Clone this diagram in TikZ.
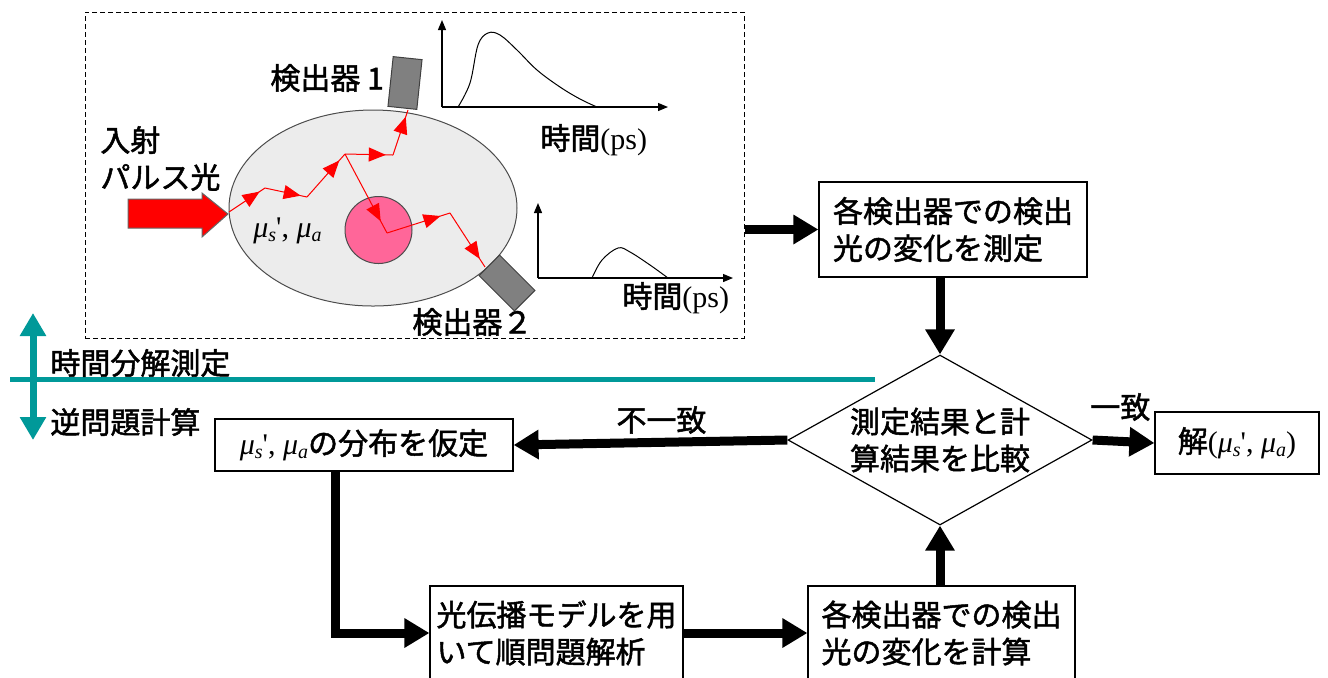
\documentclass[tikz,border=0pt]{standalone}
\usepackage{fontspec}
\setmainfont{Noto Sans CJK JP}[BoldFont=Noto Sans CJK JP, BoldFeatures={FakeBold=1.6}]
\newfontfamily\romanfont{Liberation Serif}
\usepackage{tikz}
\usetikzlibrary{arrows.meta,shapes.geometric,decorations.markings,positioning}

\definecolor{divider}{RGB}{0,153,153}
\definecolor{tumorpink}{RGB}{255,102,153}
\definecolor{tissuegray}{RGB}{236,236,236}
\definecolor{detgray}{RGB}{128,128,128}

\newcommand{\jtext}{\fontsize{15}{18.5}\selectfont\bfseries}
\newcommand{\lowidx}[1]{\raisebox{-0.3ex}{\fontsize{10}{10}\selectfont #1}}
\newcommand{\optparams}{{\romanfont\mdseries\itshape μ\lowidx{s}\upshape', \itshape μ\lowidx{a}}}

\tikzstyle{block} = [rectangle, draw, line width=0.6pt, inner sep=0pt, align=left]
\tikzstyle{decide} =
  [diamond, draw, line width=0.6pt, aspect=1.79, inner sep=0pt,
   minimum width=152pt, minimum height=85pt, align=center]
\tikzstyle{flow} = [draw, line width=4.5pt, -{Triangle[length=12.5pt,width=14pt]}]
\tikzstyle{detector} =
  [rectangle, draw=black!75, fill=detgray, line width=0.5pt, inner sep=0pt,
   minimum width=14.5pt, minimum height=25pt]
\tikzstyle{ray} =
  [red, line width=0.5pt, postaction=decorate,
   decoration={markings, mark=at position 0.85 with {\arrow{Triangle[length=8.5pt,width=7pt]}}}]
\tikzstyle{axis} = [draw, line width=0.6pt, -{Triangle[length=5pt,width=4pt]}]
\tikzstyle{label} = [inner sep=0pt, anchor=west]

\begin{document}
\begin{tikzpicture}[x=0.5pt, y=-0.5pt, font=\jtext]
  \useasboundingbox (0,0) rectangle (1328,677);
  \clip (0,0) rectangle (1328,677);

  % time-resolved measurement
  \node [draw, dash pattern=on 2.5pt off 1.5pt, line width=0.5pt, inner sep=0pt,
         minimum width=329.5pt, minimum height=163pt] (scene) at (414.5,175) {};
  \node [ellipse, draw=black!70, fill=tissuegray, line width=0.5pt, inner sep=0pt,
         minimum width=144pt, minimum height=98pt] (body) at (373,208) {};
  \node [circle, draw=black!70, fill=tumorpink, line width=0.5pt, inner sep=0pt,
         minimum size=33.5pt] (tumor) at (378.5,230) {};
  \node [detector, rotate=-6] (det1) at (405,83) {};
  \node [detector, rotate=45] (det2) at (507,283) {};
  \node [label] (det1lbl) at (270,78) {検出器 1};
  \node [label] (det2lbl) at (412,322) {検出器２};

  % incident pulse
  \node [label] (inlbl) at (100,140) {入射};
  \node [label] (pulselbl) at (100,177) {パルス光};
  \draw [fill=red, draw=black!60, line width=0.5pt]
    (128,199) -- (202,199) -- (202,193) -- (228,214) -- (202,237)
    -- (202,228) -- (128,228) -- cycle;
  \node [label] (mulbl) at (253,231) {\optparams};

  % photon paths
  \coordinate (p0) at (229,212);
  \coordinate (p1) at (265,188);
  \coordinate (p2) at (307,197);
  \coordinate (p3) at (345,154);
  \coordinate (p4) at (393,155);
  \coordinate (p5) at (408,110);
  \coordinate (p6) at (387,233);
  \coordinate (p7) at (450,213);
  \coordinate (p8) at (485,267);
  \foreach \a/\b in {p0/p1,p1/p2,p2/p3,p3/p4,p4/p5,p3/p6,p6/p7,p7/p8}
    \draw [ray] (\a) -- (\b);

  % detected signals
  \coordinate (o1) at (442,107);
  \coordinate (y1) at (442,20);
  \coordinate (x1) at (668,107);
  \draw [axis] (o1) -- (y1);
  \draw [axis] (o1) -- (x1);
  \draw [line width=0.5pt] plot [smooth, tension=0.6] coordinates
    {(458,107) (470,83) (478,45) (488,33) (500,35) (517,50) (537,70) (560,87) (580,99) (597,107)};
  \node [label] (t1lbl) at (540,140) {時間{\romanfont\mdseries (ps)}};

  \coordinate (o2) at (538,278);
  \coordinate (y2) at (538,203);
  \coordinate (x2) at (733,278);
  \draw [axis] (o2) -- (y2);
  \draw [axis] (o2) -- (x2);
  \draw [line width=0.5pt] plot [smooth, tension=0.6] coordinates
    {(592,278) (602,260) (618,248) (630,252) (650,265) (668,278)};
  \node [label] (t2lbl) at (622,298) {時間{\romanfont\mdseries (ps)}};

  % measurement / inverse problem divider
  \coordinate (su) at (33,313);
  \coordinate (sd) at (33,440);
  \coordinate (sl) at (10,379);
  \coordinate (sr) at (875,379);
  \draw [divider, line width=3.5pt,
         {Triangle[length=11.5pt,width=12.5pt]}-{Triangle[length=11.5pt,width=12.5pt]}] (su) -- (sd);
  \draw [divider, line width=2.5pt] (sl) -- (sr);
  \node [label] (measlbl) at (50,363) {時間分解測定};
  \node [label] (invlbl) at (50,422) {逆問題計算};

  % flow
  \node [block, minimum width=134pt, minimum height=47.5pt] (meas) at (953,229.5)
    {各検出器での検出\\光の変化を測定};
  \node [decide] (cmp) at (940,440) {測定結果と計\\算結果を比較};
  \node [block, minimum width=149pt, minimum height=26pt] (assume) at (364,445)
    {\optparams の分布を仮定};
  \node [block, minimum width=82pt, minimum height=31pt] (sol) at (1237,443)
    {解{\romanfont\mdseries(}\optparams{\romanfont\mdseries)}};
  \node [block, minimum width=126.5pt, minimum height=47pt] (model) at (556.5,633)
    {光伝播モデルを用\\いて順問題解析};
  \node [block, minimum width=133.5pt, minimum height=47pt] (calc) at (941.5,633)
    {各検出器での検出\\光の変化を計算};

  \draw [flow] (scene.east |- meas.west) -- (meas.west);
  \draw [flow] (cmp.north |- meas.south) -- (cmp.north);
  \draw [flow] (cmp.west) -- (assume.east) node [pos=0.46, above=2pt, inner sep=0pt] {不一致};
  \draw [flow] (cmp.east) -- (sol.west) node [pos=0.45, above=8pt, inner sep=0pt] {一致};
  \draw [flow] ([xshift=-14.5pt]assume.south) |- (model.west);
  \draw [flow] (model) -- (calc);
  \draw [flow] (cmp.south |- calc.north) -- (cmp.south);
\end{tikzpicture}
\end{document}
